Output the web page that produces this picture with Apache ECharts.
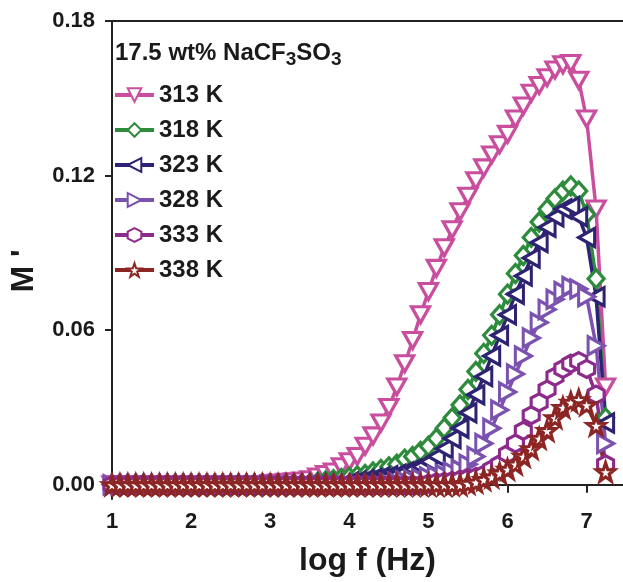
<html>
<head>
<meta charset="utf-8">
<title>M' vs log f</title>
<script src="https://cdn.jsdelivr.net/npm/echarts/dist/echarts.min.js"></script>
<style>
  html,body{margin:0;padding:0;background:#fff;}
  #main{width:623px;height:582px;}
</style>
</head>
<body>
<div id="main"></div>
<script>
// log f (Hz)
var logf = [1.0,1.1,1.2,1.3,1.4,1.5,1.6,1.7,1.8,1.9,
            2.0,2.1,2.2,2.3,2.4,2.5,2.6,2.7,2.8,2.9,
            3.0,3.1,3.2,3.3,3.4,3.5,3.6,3.7,3.8,3.9,
            4.0,4.1,4.2,4.3,4.4,4.5,4.6,4.7,4.8,4.9,
            5.0,5.1,5.2,5.3,5.4,5.5,5.6,5.7,5.8,5.9,
            6.0,6.1,6.2,6.3,6.4,6.5,6.6,6.7,6.8,6.9,
            7.0,7.12,7.24];

var m313 = [0,0,0,0,0,0,0,0,0,0,
            0,0,0,0,0,0,0,0,0,0,
            0.0005,0.0007,0.001,0.0012,0.0015,0.002,0.003,0.004,0.005,0.007,
            0.009,0.011,0.015,0.019,0.024,0.030,0.038,0.047,0.056,0.066,
            0.075,0.084,0.092,0.099,0.106,0.112,0.118,0.123,0.128,0.132,
            0.136,0.142,0.147,0.152,0.155,0.158,0.161,0.163,0.1635,0.157,
            0.142,0.107,0.038];
var m318 = [0,0,0,0,0,0,0,0,0,0,
            0,0,0,0,0,0,0,0,0,0,
            0,0,0,0,0,0.0005,0.001,0.0015,0.002,0.0025,
            0.003,0.0035,0.004,0.005,0.006,0.007,0.008,0.010,0.011,0.013,
            0.015,0.018,0.022,0.026,0.031,0.037,0.044,0.051,0.058,0.066,
            0.074,0.082,0.089,0.096,0.102,0.107,0.111,0.114,0.116,0.114,
            0.105,0.080,0.026];
var m323 = [0,0,0,0,0,0,0,0,0,0,
            0,0,0,0,0,0,0,0,0,0,
            0,0,0,0,0,0,0,0,0,0,
            0.001,0.0015,0.002,0.0025,0.003,0.0035,0.004,0.005,0.006,0.007,
            0.009,0.011,0.014,0.018,0.022,0.028,0.035,0.042,0.050,0.058,
            0.066,0.074,0.081,0.088,0.094,0.100,0.104,0.107,0.108,0.104,
            0.096,0.073,0.024];
var m328 = [0,0,0,0,0,0,0,0,0,0,
            0,0,0,0,0,0,0,0,0,0,
            0,0,0,0,0,0,0,0,0,0,
            0,0,0,0,0,0.0005,0.001,0.0015,0.002,0.0025,
            0.003,0.0035,0.004,0.005,0.006,0.008,0.011,0.016,0.022,0.029,
            0.036,0.043,0.050,0.057,0.063,0.068,0.072,0.075,0.077,0.076,
            0.073,0.054,0.016];
var m333 = [0,0,0,0,0,0,0,0,0,0,
            0,0,0,0,0,0,0,0,0,0,
            0,0,0,0,0,0,0,0,0,0,
            0,0,0,0,0,0,0,0,0,0,
            0.0005,0.001,0.0012,0.0015,0.002,0.0025,0.003,0.004,0.006,0.008,
            0.012,0.016,0.021,0.027,0.032,0.037,0.042,0.045,0.047,0.048,
            0.045,0.035,0.008];
var m338 = [0,0,0,0,0,0,0,0,0,0,
            0,0,0,0,0,0,0,0,0,0,
            0,0,0,0,0,0,0,0,0,0,
            0,0,0,0,0,0,0,0,0,0,
            0,0,0,0,0,0.0005,0.001,0.002,0.003,0.0045,
            0.006,0.008,0.011,0.014,0.018,0.021,0.026,0.030,0.032,0.033,
            0.031,0.023,0.005];

var names  = ['313 K','318 K','323 K','328 K','333 K','338 K'];
var yTicks = [0, 0.06, 0.12, 0.18];
var xTicks = [1, 2, 3, 4, 5, 6, 7];

var hexPath  = 'path://M0,-10 L8.66,-5 L8.66,5 L0,10 L-8.66,5 L-8.66,-5 Z';
var starPath = 'path://M0,-10 L2.35,-3.24 L9.51,-3.09 L3.8,1.24 L5.88,8.09 L0,4 L-5.88,8.09 L-3.8,1.24 L-9.51,-3.09 L-2.35,-3.24 Z';

var FONT = '"Liberation Sans", Arial, sans-serif';

function pairs(ys){
  var out = [];
  for (var i = 0; i < logf.length; i++) out.push([logf[i], ys[i]]);
  return out;
}

// one entry per temperature: colour, symbol, rotation, size
var styles = [
  {c:'#C94E9E', s:'triangle', r:180, z:[18,16]},
  {c:'#2E8B3C', s:'diamond',  r:0,   z:[16,18]},
  {c:'#2E2372', s:'triangle', r:90,  z:[18,16]},
  {c:'#7B52AF', s:'triangle', r:-90, z:[18,16]},
  {c:'#8D2B8C', s:hexPath,    r:0,   z:[16,17]},
  {c:'#8C2624', s:starPath,   r:0,   z:[18,18]}
];
var dataSets = [m313, m318, m323, m328, m333, m338];

var series = [];
for (var k = 0; k < names.length; k++) {
  var st = styles[k];
  series.push({
    name: names[k],
    type: 'line',
    data: pairs(dataSets[k]),
    symbol: st.s,
    symbolRotate: st.r,
    symbolSize: st.z,
    showAllSymbol: true,
    lineStyle: {color: st.c, width: 3.5},
    itemStyle: {color: '#fff', borderColor: st.c, borderWidth: 3.2},
    emphasis: {disabled: true}
  });
}

var myChart = echarts.init(document.getElementById('main'));
var option = {
  animation: false,
  backgroundColor: '#fff',
  grid: {left: 110, right: 0, top: 21, bottom: 83},
  title: {
    left: 115, top: 37, padding: 0,
    text: '17.5 wt% NaCF{s|3}SO{s|3}',
    textStyle: {
      fontFamily: FONT, fontWeight: 'bold', fontSize: 24, color: '#1a1a1a',
      rich: {s: {fontFamily: FONT, fontWeight: 'bold', fontSize: 19, color: '#1a1a1a', padding: [13, 0, 0, 0]}}
    }
  },
  legend: {
    orient: 'vertical',
    left: 113, top: 83, padding: 0,
    itemWidth: 39, itemHeight: 17, itemGap: 11,
    selectedMode: false,
    data: names,
    lineStyle: {width: 4},
    textStyle: {fontFamily: FONT, fontWeight: 'bold', fontSize: 24, color: '#1a1a1a'}
  },
  xAxis: [{
    type: 'value', min: 1, max: 7.46,
    name: 'log f (Hz)', nameLocation: 'middle', nameGap: 46,
    nameTextStyle: {fontFamily: FONT, fontWeight: 'bold', fontSize: 32, color: '#1a1a1a'},
    axisLine: {lineStyle: {color: '#222', width: 2}},
    axisTick: {show: true, length: 8, customValues: xTicks, lineStyle: {color: '#222', width: 2}},
    axisLabel: {customValues: xTicks, margin: 12, fontFamily: FONT, fontWeight: 'bold', fontSize: 22, color: '#1a1a1a'},
    splitLine: {show: false}
  }, {
    type: 'value', min: 1, max: 7.46, position: 'top',
    axisLine: {show: true, lineStyle: {color: '#222', width: 2}},
    axisTick: {show: false}, axisLabel: {show: false}, splitLine: {show: false}
  }],
  yAxis: {
    type: 'value', min: -0.0055, max: 0.18,
    name: "M '", nameLocation: 'middle', nameGap: 72, nameRotate: 90,
    nameTextStyle: {fontFamily: FONT, fontWeight: 'bold', fontSize: 32, color: '#1a1a1a', padding: [0, 22, 0, 0]},
    axisLine: {show: true, lineStyle: {color: '#222', width: 2}},
    axisTick: {show: true, length: 7, customValues: yTicks, lineStyle: {color: '#222', width: 2}},
    axisLabel: {
      customValues: yTicks, margin: 17, fontFamily: FONT, fontWeight: 'bold', fontSize: 22, color: '#1a1a1a',
      formatter: function (v) { return v.toFixed(2); }
    },
    splitLine: {show: false}
  },
  series: series
};
myChart.setOption(option);
</script>
</body>
</html>
